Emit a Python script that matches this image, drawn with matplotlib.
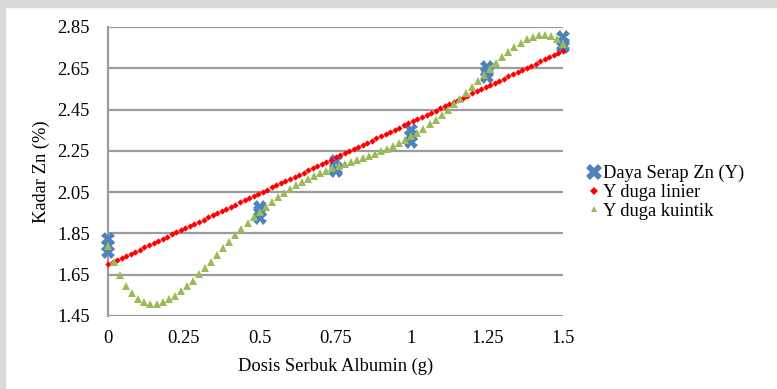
import numpy as np
import matplotlib.pyplot as plt
from matplotlib.patches import Rectangle

plt.rcParams['font.family'] = ['Liberation Serif', 'DejaVu Serif']

# observed data (3 repeats per dose)
dosis = [0, 0, 0, 0.5, 0.5, 0.5, 0.75, 0.75, 0.75,
         1.0, 1.0, 1.0, 1.25, 1.25, 1.25, 1.5, 1.5, 1.5]
daya_serap = [1.76, 1.79, 1.825, 1.925, 1.96, 1.98, 2.15, 2.16, 2.20,
              2.295, 2.32, 2.35, 2.61, 2.63, 2.655, 2.755, 2.765, 2.80]

# linear estimate, read at x step 0.015
x_lin = np.linspace(0, 1.5, 101)
y_linier = [1.700, 1.710, 1.721, 1.731, 1.741, 1.752, 1.762, 1.772, 1.783, 1.793,
            1.804, 1.814, 1.824, 1.835, 1.845, 1.855, 1.866, 1.876, 1.886, 1.897,
            1.907, 1.917, 1.928, 1.938, 1.948, 1.959, 1.969, 1.979, 1.990, 2.000,
            2.011, 2.021, 2.031, 2.042, 2.052, 2.062, 2.073, 2.083, 2.093, 2.104,
            2.114, 2.124, 2.135, 2.145, 2.155, 2.166, 2.176, 2.186, 2.197, 2.207,
            2.218, 2.228, 2.238, 2.249, 2.259, 2.269, 2.280, 2.290, 2.300, 2.311,
            2.321, 2.331, 2.342, 2.352, 2.362, 2.373, 2.383, 2.393, 2.404, 2.414,
            2.425, 2.435, 2.445, 2.456, 2.466, 2.476, 2.487, 2.497, 2.507, 2.518,
            2.528, 2.538, 2.549, 2.559, 2.569, 2.580, 2.590, 2.600, 2.611, 2.621,
            2.632, 2.642, 2.652, 2.663, 2.673, 2.683, 2.694, 2.704, 2.714, 2.725,
            2.735]

# quintic estimate, read at x step 0.02
x_kui = np.linspace(0, 1.5, 76)
y_kuintik = [1.790, 1.711, 1.647, 1.597, 1.559, 1.533, 1.517, 1.510, 1.510, 1.517,
             1.530, 1.548, 1.569, 1.594, 1.621, 1.651, 1.682, 1.713, 1.745, 1.777,
             1.809, 1.840, 1.871, 1.900, 1.928, 1.955, 1.980, 2.004, 2.026, 2.047,
             2.066, 2.084, 2.100, 2.115, 2.129, 2.142, 2.153, 2.165, 2.175, 2.185,
             2.195, 2.205, 2.215, 2.226, 2.237, 2.248, 2.260, 2.274, 2.288, 2.303,
             2.320, 2.338, 2.358, 2.378, 2.401, 2.424, 2.449, 2.476, 2.503, 2.531,
             2.560, 2.589, 2.618, 2.647, 2.676, 2.703, 2.729, 2.752, 2.773, 2.790,
             2.803, 2.810, 2.812, 2.806, 2.793, 2.770]

fs = 13.3
fig = plt.figure(figsize=(7.77, 3.89), dpi=100)
# grey page edge of the scan
fig.patches.append(Rectangle((0, 0), 0.0065, 1, transform=fig.transFigure,
                             color='#d9d9d9', zorder=0))
fig.patches.append(Rectangle((0, 0.982), 1, 0.018, transform=fig.transFigure,
                             color='#d9d9d9', zorder=0))

ax = fig.add_axes([0.139, 0.1877, 0.5856, 0.7429])
grid_col = '#9c9c9c'
ax.set_ylim(1.45, 2.85)
ax.set_xlim(0, 1.5)
ax.set_yticks([1.45, 1.65, 1.85, 2.05, 2.25, 2.45, 2.65, 2.85])
ax.set_yticklabels(['1.45', '1.65', '1.85', '2.05', '2.25', '2.45', '2.65', '2.85'])
ax.set_xticks([0, 0.25, 0.5, 0.75, 1, 1.25, 1.5])
ax.set_xticklabels(['0', '0.25', '0.5', '0.75', '1', '1.25', '1.5'])
ax.yaxis.grid(True, color=grid_col, linewidth=1.6)
ax.set_axisbelow(True)
for s in ['top', 'right', 'bottom']:
    ax.spines[s].set_visible(False)
ax.spines['left'].set_color(grid_col)
ax.spines['left'].set_linewidth(1.6)
ax.tick_params(length=0, labelsize=fs)
ax.tick_params(axis='y', pad=13)
ax.tick_params(axis='x', pad=10)

ax.plot(dosis, daya_serap, 'X', color='#4f81bd', markersize=10,
        markeredgewidth=0, label='Daya Serap Zn (Y)', clip_on=False, zorder=3)
ax.plot(x_lin, y_linier, 'D', color='#ff0000', markersize=3.2,
        markeredgewidth=0, label='Y duga linier', clip_on=False, zorder=4)
ax.plot(x_kui, y_kuintik, '^', color='#9bbb59', markersize=5.5,
        markeredgewidth=0, label='Y duga kuintik', clip_on=False, zorder=5)

ax.set_xlabel('Dosis Serbuk Albumin (g)', fontsize=fs, labelpad=8)
ax.set_ylabel('Kadar Zn (%)', fontsize=fs, labelpad=5)

leg = ax.legend(loc='upper left', bbox_to_anchor=(0.743, 0.60),
                bbox_transform=fig.transFigure, frameon=False,
                fontsize=fs, handlelength=0.8, handletextpad=0.1,
                labelspacing=0.1, borderpad=0)
leg.legend_handles[0].set_markersize(11)
leg.legend_handles[1].set_markersize(4)
leg.legend_handles[2].set_markersize(5)

fig.savefig('out.png', dpi=100)
